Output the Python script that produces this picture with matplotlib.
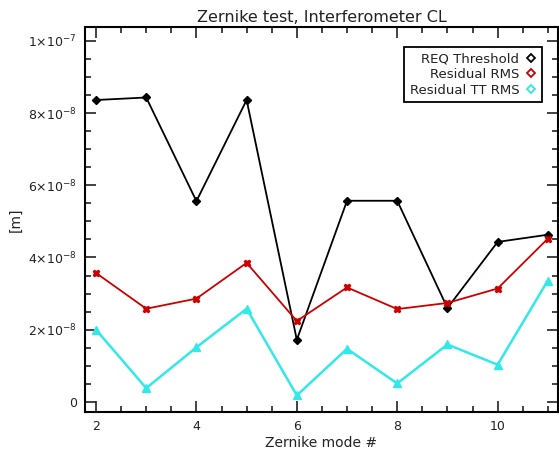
import matplotlib.pyplot as plt
from matplotlib.lines import Line2D
from matplotlib.ticker import MultipleLocator, FuncFormatter

modes = [2, 3, 4, 5, 6, 7, 8, 9, 10, 11]
req_threshold = [8.36e-8, 8.43e-8, 5.56e-8, 8.36e-8, 1.72e-8, 5.57e-8, 5.57e-8, 2.60e-8, 4.43e-8, 4.63e-8]
residual_rms = [3.57e-8, 2.58e-8, 2.86e-8, 3.85e-8, 2.24e-8, 3.17e-8, 2.57e-8, 2.74e-8, 3.14e-8, 4.52e-8]
residual_tt_rms = [2.00e-8, 0.38e-8, 1.51e-8, 2.58e-8, 0.18e-8, 1.47e-8, 0.51e-8, 1.59e-8, 1.03e-8, 3.36e-8]
labels = ['REQ Threshold', 'Residual RMS', 'Residual TT RMS']

RED = '#cc0000'
CYAN = '#33e8e8'


def sci_fmt(v, pos):
    if abs(v) < 1e-12:
        return '0'
    exp = 0
    m = v
    while abs(m) >= 10:
        m /= 10
        exp += 1
    while abs(m) < 1:
        m *= 10
        exp -= 1
    return r'$%d{\times}10^{%d}$' % (round(m), exp)


def main():
    plt.rcParams['font.family'] = 'DejaVu Sans'
    plt.rcParams['mathtext.fontset'] = 'dejavusans'
    fig = plt.figure(figsize=(5.59, 4.55), dpi=100)
    ax = fig.add_axes([0.152, 0.0945, 0.846, 0.846])

    ax.plot(modes, req_threshold, color='black', lw=1.3, marker='D', ms=4,
            mfc='black', mec='black')
    ax.plot(modes, residual_rms, color=RED, lw=1.3, marker='X', ms=5,
            mfc=RED, mec=RED)
    ax.plot(modes, residual_tt_rms, color=CYAN, lw=1.8, marker='^', ms=6,
            mfc=CYAN, mec=CYAN)

    ax.set_xlim(1.78, 11.2)
    ax.set_ylim(-0.28e-8, 10.38e-8)
    ax.xaxis.set_major_locator(MultipleLocator(2))
    ax.xaxis.set_minor_locator(MultipleLocator(0.5))
    ax.yaxis.set_major_locator(MultipleLocator(2e-8))
    ax.yaxis.set_minor_locator(MultipleLocator(0.5e-8))
    ax.yaxis.set_major_formatter(FuncFormatter(sci_fmt))
    ax.tick_params(which='both', direction='in', top=True, right=True,
                   labelsize=9, colors='#222222', width=1.2)
    ax.tick_params(which='major', length=8, pad=6)
    ax.tick_params(which='minor', length=4)
    for sp in ax.spines.values():
        sp.set_linewidth(1.5)

    ax.set_title('Zernike test, Interferometer CL', fontsize=11.5, pad=4,
                 color='#222222')
    ax.set_xlabel('Zernike mode #', fontsize=10, labelpad=2, color='#222222')
    ax.set_ylabel('[m]', fontsize=10, labelpad=4, color='#222222')

    handles = [
        Line2D([], [], ls='none', marker='D', ms=4, mfc='white', mec='black', mew=1.3),
        Line2D([], [], ls='none', marker='D', ms=4, mfc='white', mec=RED, mew=1.3),
        Line2D([], [], ls='none', marker='D', ms=4, mfc='white', mec=CYAN, mew=1.3),
    ]
    leg = ax.legend(handles, labels, loc='upper right', markerfirst=False,
                    fontsize=9.5, frameon=True, fancybox=False, framealpha=1,
                    edgecolor='black', handlelength=0.8, handletextpad=0.5,
                    labelspacing=0.2, borderpad=0.4,
                    bbox_to_anchor=(0.98, 0.965))
    leg.get_frame().set_linewidth(1.3)
    for t in leg.get_texts():
        t.set_ha('right')
        t.set_color('#222222')
    leg._legend_box.align = 'right'

    fig.savefig('out.png', dpi=100)


if __name__ == '__main__':
    main()
